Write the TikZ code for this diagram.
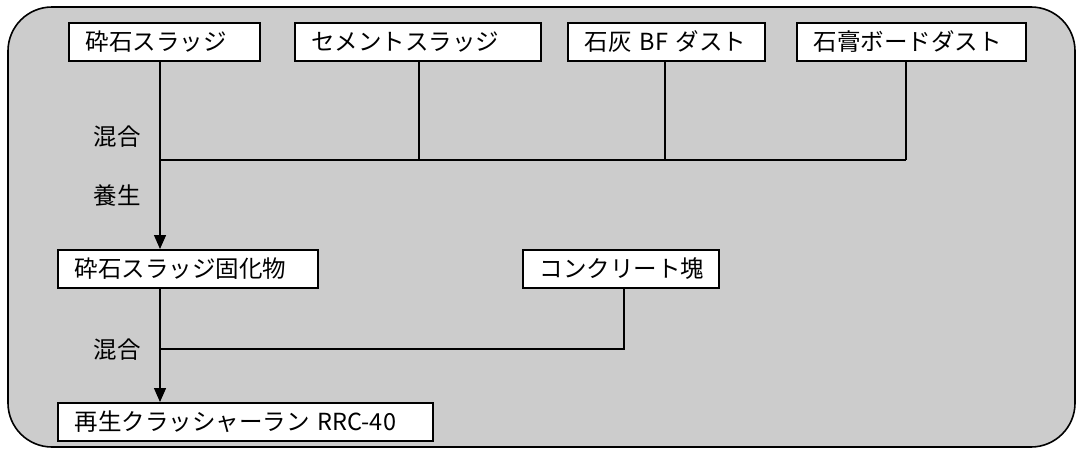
\documentclass[tikz,border=0pt]{standalone}
\usepackage{fontspec}
\newfontfamily\jp{Noto Sans CJK JP}
\usetikzlibrary{arrows.meta}
\definecolor{bggray}{RGB}{204,204,204}
\tikzset{
  box/.style={draw=black, fill=white, line width=1.6pt, anchor=north west,
    minimum height=38pt, inner xsep=17pt, inner ysep=0pt, align=left,
    font=\jp\fontsize{23.5}{26}\selectfont},
  conn/.style={line width=1.4pt},
  arr/.style={line width=1.4pt, -{Triangle[width=12pt,length=14pt]}},
  lbl/.style={anchor=east, inner sep=0pt, font=\jp\fontsize{23.5}{26}\selectfont}
}
\begin{document}
\begin{tikzpicture}[x=1pt,y=-1pt]
\useasboundingbox (0,0) rectangle (1081,450);
\draw[fill=bggray, line width=1.6pt, rounded corners=44pt] (8,7) rectangle (1075,447);
% boxes
\node[box, text width=157pt] (b1) at (68,22) {砕石スラッジ};
\node[box, text width=212pt] (b2) at (294,22) {セメントスラッジ};
\node[box, text width=163pt] (b3) at (567,22) {石灰 BF ダスト};
\node[box, text width=195pt] (b4) at (796,22) {石膏ボードダスト};
\node[box, text width=226pt] (b5) at (57,249) {砕石スラッジ固化物};
\node[box, text width=162pt] (b6) at (522,249) {コンクリート塊};
\node[box, text width=341pt] (b7) at (57,402) {再生クラッシャーラン RRC-40};
% junctions
\coordinate (j1) at (160,160);
\coordinate (j2) at (160,349);
\coordinate (k2) at (419,160);
\coordinate (k3) at (665,160);
\coordinate (k4) at (906,160);
\coordinate (k6) at (624,349);
% connectors
\draw[conn] (b1.south -| j1) -- (j1);
\draw[conn] (b2.south -| k2) -- (k2);
\draw[conn] (b3.south -| k3) -- (k3);
\draw[conn] (b4.south -| k4) -- (k4);
\draw[conn] (j1) -- (k4);
\draw[arr] (j1) -- (b5.north -| j1);
\draw[conn] (b6.south -| k6) -- (k6) -- (j2);
\draw[arr] (b5.south -| j2) -- (b7.north -| j2);
% labels
\node[lbl] (l1) at (141,137) {混合};
\node[lbl] (l2) at (141,196) {養生};
\node[lbl] (l3) at (141,350) {混合};
\end{tikzpicture}
\end{document}
